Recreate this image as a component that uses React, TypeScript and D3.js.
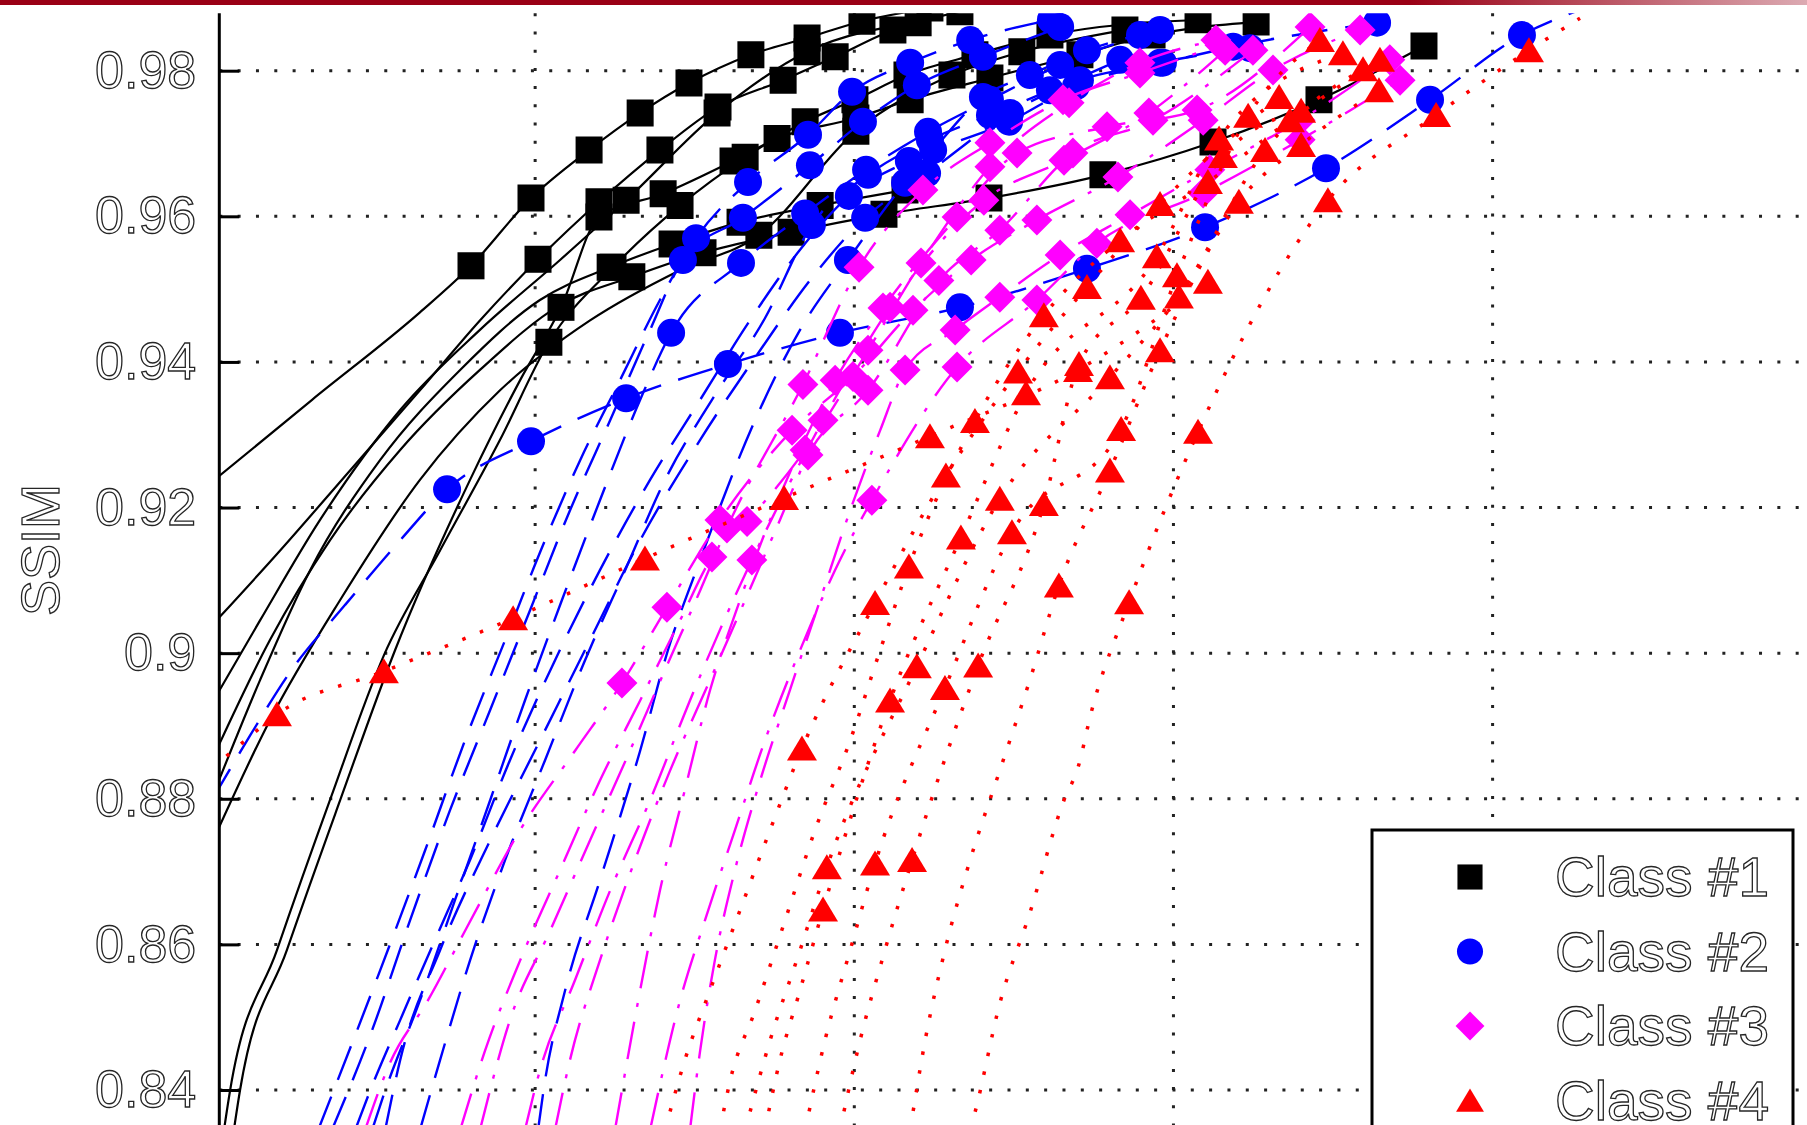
import React, { useEffect, useRef } from "react";
import * as d3 from "d3";

type Pt = [number, number];
// m: points drawn with a marker, t: lower part of the fitted curve (line only), h: line only above the last marker
type Curve = { m: Pt[]; t: Pt[]; h?: Pt[] };

const yTicks = [0.84, 0.86, 0.88, 0.9, 0.92, 0.94, 0.96, 0.98];
const xGrid = [100, 200, 300, 400];
const classNames = ["Class #1", "Class #2", "Class #3", "Class #4"];

// Class #1
const class1: Curve[] = [
  { m: [[79.9, 0.9532], [98.7, 0.9625], [116.9, 0.9691], [132.9, 0.9742], [148.2, 0.9783], [167.6, 0.9822], [185.2, 0.9845], [202.4, 0.9868], [223.7, 0.9886]],
    t: [[63.9, 0.9468], [30.1, 0.9348], [-1.3, 0.9235]] },
  { m: [[100.9, 0.9541], [120.0, 0.962], [139.1, 0.9691], [157.3, 0.975], [177.7, 0.9787], [194.0, 0.9819], [212.1, 0.9856], [233.1, 0.9881]],
    t: [[82.7, 0.9457], [63.9, 0.9361], [42.0, 0.9251], [20.1, 0.9141], [-1.3, 0.9038]] },
  { m: [[108.1, 0.9475], [120.0, 0.9599], [140.1, 0.9631], [162.0, 0.9676], [175.8, 0.9707], [200.5, 0.9735], [217.5, 0.976], [242.5, 0.979], [270.7, 0.9822], [293.3, 0.9849], [325.9, 0.9867]],
    t: [[95.3, 0.9375], [79.6, 0.9238], [56.1, 0.9004], [38.9, 0.8798], [22.2, 0.8592], [7.5, 0.8399], [5.6, 0.8345]] },
  { m: [[104.3, 0.9427], [124.4, 0.953], [145.4, 0.9615], [165.8, 0.9681], [184.6, 0.973], [200.2, 0.976], [216.5, 0.9794], [237.8, 0.9822], [261.3, 0.9849], [307.7, 0.987]],
    t: [[89.0, 0.9293], [70.2, 0.9141], [52.6, 0.8997], [35.7, 0.8798], [19.1, 0.8592], [4.4, 0.8399], [2.5, 0.8345]] },
  { m: [[130.3, 0.9517], [152.6, 0.955], [180.2, 0.9578], [209.3, 0.9603], [242.2, 0.9625], [277.9, 0.9657], [312.4, 0.9702], [345.6, 0.976], [378.5, 0.9834]],
    t: [[107.8, 0.9478], [82.7, 0.9389], [57.7, 0.9279], [35.7, 0.9155], [16.9, 0.9018], [-1.3, 0.8853]] },
  { m: [[128.5, 0.9622], [157.0, 0.9742], [185.2, 0.9826], [220.0, 0.9866]],
    t: [[107.8, 0.954], [82.7, 0.9444], [57.7, 0.9334], [32.6, 0.9183], [13.8, 0.9045], [-1.3, 0.8931]] },
  { m: [[170.1, 0.9574], [200.5, 0.9717], [230.6, 0.9794], [252.5, 0.9826], [284.8, 0.9856]],
    t: [[145.4, 0.9526], [117.2, 0.9457], [89.0, 0.9361], [63.9, 0.9238], [38.9, 0.9073], [16.9, 0.8908], [-1.3, 0.8739]] },
  { m: [[123.5, 0.953], [142.9, 0.9562], [164.2, 0.9592], [189.3, 0.9615], [215.9, 0.9636]],
    t: [[101.5, 0.9485], [76.5, 0.9389], [51.4, 0.9265], [29.5, 0.9114], [13.8, 0.8963], [-1.3, 0.8801]] },
];

// Class #2
const class2: Curve[] = [
  { m: [[72.4, 0.9225], [98.7, 0.9291], [128.5, 0.935], [160.4, 0.9397], [195.5, 0.944], [233.1, 0.9475], [272.9, 0.9528], [309.9, 0.9585], [347.8, 0.9666], [380.4, 0.976], [409.2, 0.9849]],
    t: [[57.7, 0.9155], [40.4, 0.9066], [23.2, 0.8974], [10.7, 0.8887], [-1.3, 0.8798]], h: [[425.8, 0.9881]] },
  { m: [[142.6, 0.944], [164.5, 0.9536], [184.6, 0.9604], [203.7, 0.9664], [223.1, 0.9716], [242.5, 0.976], [264.5, 0.9808], [289.5, 0.9849]],
    t: [[132.9, 0.9348], [120.3, 0.921], [108.4, 0.9073], [96.8, 0.8935], [85.9, 0.8798], [74.9, 0.8661], [63.9, 0.8523], [53.0, 0.8399], [48.9, 0.8345]] },
  { m: [[146.3, 0.954], [165.1, 0.9598], [186.1, 0.967], [202.7, 0.973], [219.6, 0.978], [240.3, 0.9819], [264.5, 0.986]],
    t: [[136.0, 0.9444], [123.5, 0.932], [110.9, 0.9196], [98.4, 0.9059], [85.9, 0.8922], [73.3, 0.8784], [60.8, 0.8633], [48.9, 0.8482], [36.3, 0.8345]] },
  { m: [[150.4, 0.957], [166.7, 0.9647], [185.5, 0.9712], [199.3, 0.9771], [217.5, 0.9811], [236.3, 0.9842], [261.6, 0.987]],
    t: [[139.1, 0.9485], [126.6, 0.9375], [114.1, 0.9265], [103.1, 0.9155], [90.6, 0.9018], [78.0, 0.888], [65.5, 0.8729], [51.4, 0.8564], [32.0, 0.8345]] },
  { m: [[198.0, 0.954], [215.9, 0.9646], [224.7, 0.9691], [240.3, 0.9764], [255.0, 0.9794], [272.9, 0.9828], [295.8, 0.9856]],
    t: [[183.0, 0.9444], [168.9, 0.932], [151.7, 0.9128], [141.6, 0.9004], [132.9, 0.8866], [120.3, 0.8688], [109.4, 0.8537], [103.1, 0.8413], [100.9, 0.8345]] },
  { m: [[203.4, 0.9598], [222.8, 0.9659], [248.8, 0.9742], [270.7, 0.9787], [296.7, 0.9811], [318.7, 0.9833], [363.8, 0.9866]],
    t: [[186.1, 0.9512], [170.5, 0.9416], [151.7, 0.9293], [132.9, 0.9155], [117.2, 0.9018], [101.5, 0.888], [85.9, 0.8743], [70.2, 0.8592], [57.7, 0.8441], [53.0, 0.8345]] },
  { m: [[186.7, 0.9588], [204.3, 0.9657], [223.7, 0.9705], [242.5, 0.9739], [261.3, 0.9773], [283.3, 0.9815]],
    t: [[172.0, 0.946], [155.4, 0.9348], [140.7, 0.9238], [128.2, 0.9114], [115.6, 0.899], [103.1, 0.8853], [90.6, 0.8716], [79.6, 0.8578], [70.2, 0.8441], [63.9, 0.8345]] },
  { m: [[198.3, 0.9628], [217.1, 0.9676], [248.5, 0.973], [269.5, 0.9779], [295.8, 0.9811], [324.0, 0.9831]],
    t: [[183.0, 0.9554], [167.3, 0.9457], [151.7, 0.9348], [136.0, 0.9238], [120.3, 0.9114], [106.2, 0.899], [92.1, 0.8853], [79.6, 0.8716], [68.6, 0.8606], [57.7, 0.8496], [48.3, 0.8399], [43.6, 0.8345]] },
];

// Class #3
const class3: Curve[] = [
  { m: [[127.2, 0.8959], [141.3, 0.9063], [157.9, 0.9183], [180.5, 0.9306], [199.6, 0.938], [218.4, 0.9471], [236.6, 0.954], [257.2, 0.9595], [282.6, 0.9654], [309.3, 0.9732], [331.2, 0.9801], [358.5, 0.9856]],
    t: [[112.5, 0.8866], [95.3, 0.8757], [79.3, 0.8629], [66.4, 0.8523], [54.5, 0.8437], [46.7, 0.8345]] },
  { m: [[155.4, 0.9132], [166.4, 0.9181], [184.6, 0.9279], [204.3, 0.9416], [220.9, 0.9536], [242.5, 0.9668], [267.3, 0.9756], [289.5, 0.9811], [313.3, 0.9842]],
    t: [[145.4, 0.9045], [132.9, 0.8935], [120.3, 0.8825], [107.8, 0.8702], [95.3, 0.8578], [84.3, 0.8454], [76.5, 0.8345]] },
  { m: [[167.9, 0.9128], [190.2, 0.932], [211.2, 0.9475], [240.6, 0.9622], [265.7, 0.9677], [292.3, 0.9742], [316.2, 0.9828]],
    t: [[157.9, 0.9032], [148.5, 0.8935], [136.0, 0.8798], [123.5, 0.8674], [112.5, 0.8551], [101.5, 0.8427], [96.8, 0.8345]] },
  { m: [[205.5, 0.921], [232.2, 0.9393], [257.2, 0.9485], [276.0, 0.9563], [309.3, 0.9632], [339.7, 0.9705], [371.0, 0.9787]],
    t: [[195.5, 0.9128], [183.0, 0.9004], [172.0, 0.888], [162.6, 0.8757], [153.2, 0.8633], [145.4, 0.8523], [136.0, 0.8345]] },
  { m: [[185.5, 0.9272], [204.3, 0.9361], [226.5, 0.9512], [245.6, 0.9581], [268.5, 0.9687], [293.6, 0.9732], [324.9, 0.9828]],
    t: [[176.7, 0.9183], [165.8, 0.9073], [154.8, 0.8963], [142.3, 0.8839], [131.3, 0.8716], [120.3, 0.8578], [110.9, 0.8441], [106.2, 0.8345]] },
  { m: [[194.0, 0.9375], [209.0, 0.9474], [232.2, 0.9599], [251.0, 0.9687], [279.2, 0.9723], [307.4, 0.9746], [342.8, 0.986]],
    t: [[183.0, 0.9279], [173.6, 0.9183], [164.2, 0.9073], [154.8, 0.8949], [146.9, 0.8812], [139.1, 0.8674], [132.9, 0.8537], [125.0, 0.8345]] },
  { m: [[160.1, 0.9172], [183.9, 0.9369], [201.5, 0.953], [221.5, 0.9636], [242.5, 0.9701], [265.4, 0.976], [289.5, 0.9797], [314.6, 0.9835]],
    t: [[151.7, 0.9086], [140.7, 0.8977], [129.7, 0.8866], [117.2, 0.8743], [104.7, 0.8619], [92.1, 0.8496], [82.7, 0.8345]] },
  { m: [[215.9, 0.9389], [231.6, 0.9444], [245.6, 0.9489], [264.5, 0.9547], [286.4, 0.9602], [311.4, 0.9664], [339.7, 0.9732], [367.8, 0.9815]],
    t: [[208.1, 0.9306], [198.7, 0.9196], [189.3, 0.9073], [179.8, 0.8949], [170.5, 0.8825], [162.6, 0.8702], [156.3, 0.8578], [151.7, 0.8454], [148.5, 0.8345]] },
];

// Class #4
const class4: Curve[] = [
  { m: [[19.1, 0.8916], [52.6, 0.8975], [93.1, 0.9048], [134.4, 0.913], [178.0, 0.9213], [223.7, 0.9298], [270.1, 0.9389], [310.8, 0.951]],
    t: [[7.5, 0.8874], [-1.3, 0.8842]] },
  { m: [[286.1, 0.907], [307.7, 0.9304], [348.4, 0.9622], [382.3, 0.9739], [411.4, 0.9828]],
    t: [[274.2, 0.8918], [270.1, 0.8843], [265.7, 0.8798], [255.0, 0.8643], [245.6, 0.8519], [237.8, 0.8369], [236.3, 0.8345]], h: [[427.4, 0.9872]] },
  { m: [[190.2, 0.8648], [211.2, 0.8935], [233.4, 0.9159], [253.8, 0.9357], [294.8, 0.9545], [314.3, 0.9707], [353.1, 0.9824]],
    t: [[183.0, 0.8537], [176.7, 0.8441], [172.0, 0.8345]] },
  { m: [[191.4, 0.8706], [219.6, 0.8982], [245.6, 0.9212], [280.1, 0.9379], [301.7, 0.949], [328.7, 0.9691], [359.4, 0.9802]],
    t: [[183.0, 0.8592], [173.6, 0.8468], [165.8, 0.8345]] },
  { m: [[206.5, 0.8711], [228.4, 0.8952], [249.4, 0.9166], [283.6, 0.9308], [301.1, 0.9519], [323.4, 0.9738], [345.9, 0.9842]],
    t: [[198.7, 0.8592], [190.8, 0.8468], [184.6, 0.8345]] },
  { m: [[218.1, 0.8716], [238.8, 0.8983], [259.4, 0.9205], [270.4, 0.9397], [289.8, 0.9488], [315.5, 0.9683], [340.0, 0.9745]],
    t: [[209.6, 0.8592], [201.8, 0.8468], [195.5, 0.8345]] },
  { m: [[183.6, 0.8869], [206.5, 0.9069], [228.7, 0.9244], [251.3, 0.9387], [272.9, 0.9503], [295.8, 0.9617], [333.1, 0.9764]],
    t: [[173.6, 0.8757], [164.2, 0.8647], [154.8, 0.8537], [146.9, 0.8441], [140.7, 0.8345]] },
  { m: [[264.1, 0.9093], [280.1, 0.9251], [295.8, 0.9416], [320.5, 0.962], [340.0, 0.9698], [364.4, 0.9773]],
    t: [[255.0, 0.8963], [245.6, 0.8839], [236.3, 0.8716], [228.4, 0.8592], [222.2, 0.8468], [217.5, 0.8345]] },
  { m: [[217.1, 0.9119], [237.8, 0.9319], [259.4, 0.9464], [283.3, 0.9567], [310.8, 0.9647], [336.5, 0.9732], [364.7, 0.9815]],
    t: [[208.1, 0.9004], [198.7, 0.888], [187.7, 0.8757], [178.3, 0.8633], [168.9, 0.8509], [161.1, 0.8413], [157.9, 0.8345]] },
];

const classes = [class1, class2, class3, class4];

const styles = [
  { color: "#000000", dash: null as string | null, width: 2.2, marker: "square" },
  { color: "#0000ff", dash: "36 18", width: 2.4, marker: "circle" },
  { color: "#ff00ff", dash: "38 15 4 15", width: 2.4, marker: "diamond" },
  { color: "#ff0000", dash: "3.5 15.5", width: 3.5, marker: "triangle" },
];

const shapes: Record<string, string> = {
  square: "M-13.5,-13.5H13.5V13.5H-13.5Z",
  circle: d3.symbol(d3.symbolCircle, Math.PI * 14 * 14)() as string,
  diamond: "M0,-15.5L15.5,0L0,15.5L-15.5,0Z",
  triangle: "M0,-13L15,12L-15,12Z",
};

const W = 1807;
const H = 1125;
const FONT = "'Liberation Sans', Arial, Helvetica, sans-serif";

const App = () => {
  const svgRef = useRef<SVGSVGElement>(null);

  useEffect(() => {
    const svg = d3.select(svgRef.current);
    svg.selectAll("*").remove();

    const left = 219.3;
    const top = 13.3;

    const x = d3.scaleLinear().domain([0, 400]).range([216, 1492.6]);
    const y = d3.scaleLinear().domain([0.84, 0.98]).range([1090, 70.7]);

    const defs = svg.append("defs");
    const grad = defs.append("linearGradient").attr("id", "bar").attr("x1", "0%").attr("x2", "100%");
    grad.append("stop").attr("offset", "0%").attr("stop-color", "#9a0015");
    grad.append("stop").attr("offset", "78%").attr("stop-color", "#9a0015");
    grad.append("stop").attr("offset", "100%").attr("stop-color", "#dcaab2");

    defs.append("clipPath").attr("id", "plot")
      .append("rect").attr("x", left).attr("y", top).attr("width", W).attr("height", H);

    svg.append("rect").attr("width", W).attr("height", H).attr("fill", "#fff");
    svg.append("rect").attr("width", W).attr("height", 5).attr("fill", "url(#bar)");

    // grid
    const grid = svg.append("g");
    grid.selectAll("line.h").data(yTicks).join("line")
      .attr("class", "h")
      .attr("x1", left).attr("x2", W + 20)
      .attr("y1", d => y(d)).attr("y2", d => y(d))
      .attr("stroke", "#222").attr("stroke-width", 3)
      .attr("stroke-dasharray", "3 15.33");
    grid.selectAll("line.v").data(xGrid).join("line")
      .attr("class", "v")
      .attr("x1", d => x(d)).attr("x2", d => x(d))
      .attr("y1", top).attr("y2", H + 20)
      .attr("stroke", "#222").attr("stroke-width", 3)
      .attr("stroke-dasharray", "3 15.2");

    const line = d3.line<Pt>()
      .x(d => x(d[0]))
      .y(d => y(d[1]))
      .curve(d3.curveMonotoneX);

    const data = svg.append("g").attr("clip-path", "url(#plot)");

    classes.forEach((curves, ci) => {
      const st = styles[ci];
      curves.forEach(c => {
        const pts: Pt[] = [...c.t].reverse().concat(c.m, c.h || []);
        const p = data.append("path")
          .datum(pts)
          .attr("fill", "none")
          .attr("stroke", st.color)
          .attr("stroke-width", st.width)
          .attr("d", line);
        if (st.dash) p.attr("stroke-dasharray", st.dash);

        data.append("g").selectAll("path").data(c.m).join("path")
          .attr("transform", d => `translate(${x(d[0])},${y(d[1])})`)
          .attr("d", shapes[st.marker])
          .attr("fill", st.color);
      });
    });

    // y axis
    const axis = d3.axisLeft(y)
      .tickValues(yTicks)
      .tickSize(-20)
      .tickPadding(23)
      .tickFormat(d => String(+(+d).toFixed(2)));

    const ag = svg.append("g").attr("transform", `translate(${left},0)`).call(axis);
    ag.select(".domain").remove();
    ag.selectAll(".tick line").attr("stroke", "#000").attr("stroke-width", 3);
    ag.selectAll(".tick text")
      .attr("font-family", FONT)
      .attr("font-size", 52)
      .attr("fill", "#fff")
      .attr("stroke", "#262626")
      .attr("stroke-width", 1.3);

    svg.append("line")
      .attr("x1", left).attr("x2", left)
      .attr("y1", top).attr("y2", H + 10)
      .attr("stroke", "#000").attr("stroke-width", 3);

    svg.append("text")
      .attr("transform", "translate(59,550) rotate(-90)")
      .attr("text-anchor", "middle")
      .attr("font-family", FONT)
      .attr("font-size", 54)
      .attr("fill", "#fff")
      .attr("stroke", "#262626")
      .attr("stroke-width", 1.3)
      .text("SSIM");

    // legend
    const lg = svg.append("g");
    lg.append("rect")
      .attr("x", 1372).attr("y", 830)
      .attr("width", 421).attr("height", 400)
      .attr("fill", "#fff").attr("stroke", "#000").attr("stroke-width", 3);

    const items = lg.selectAll("g.item").data(classNames).join("g")
      .attr("class", "item")
      .attr("transform", (_, i) => `translate(0,${877 + i * 74.5})`);
    items.append("path")
      .attr("transform", "translate(1470,0) scale(0.93)")
      .attr("d", (_, i) => shapes[styles[i].marker])
      .attr("fill", (_, i) => styles[i].color);
    items.append("text")
      .attr("x", 1555)
      .attr("dy", "0.35em")
      .attr("font-family", FONT)
      .attr("font-size", 55)
      .attr("fill", "#fff")
      .attr("stroke", "#262626")
      .attr("stroke-width", 1.3)
      .text(d => d);
  }, []);

  return (
    <svg
      ref={svgRef}
      width={W}
      height={H}
      style={{ position: "absolute", left: 0, top: 0, display: "block" }}
    />
  );
};

export default App;
